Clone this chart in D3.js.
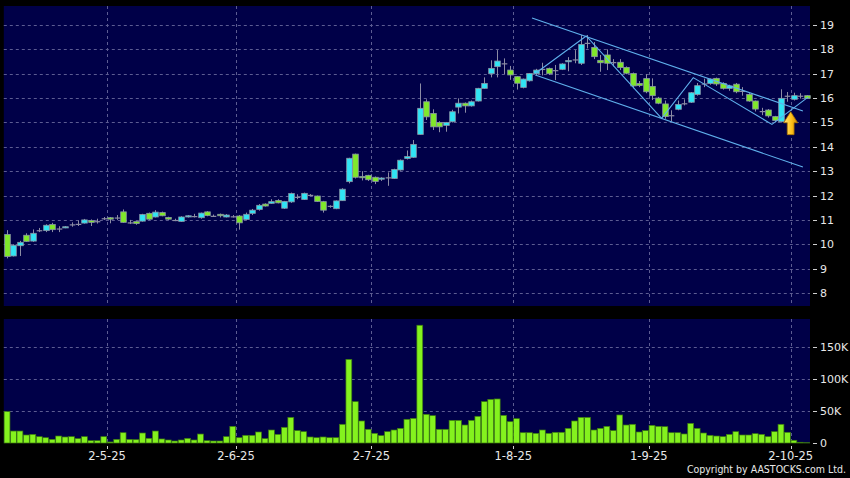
<!doctype html>
<html lang="en">
<head>
<meta charset="utf-8">
<title>Candlestick chart</title>
<script src="https://cdn.jsdelivr.net/npm/d3@7"></script>
<style>
  body { margin:0; background:#000; }
  text { font-family:"DejaVu Sans", sans-serif; font-size:11px; fill:#e8e8e8; }
  text.copy { font-family:"DejaVu Sans Condensed", "DejaVu Sans", sans-serif; font-stretch:condensed; font-size:10.5px; }
</style>
</head>
<body>
<div id="chart"></div>
<script>
// daily OHLC, one entry per trading day (8 Apr - 8 Oct 2025)
var opens = [10.4, 9.52, 9.94, 10.37, 10.13, 10.58, 10.56, 10.81, 10.65, 10.68,
  10.82, 10.84, 10.87, 10.97, 10.95, 11.07, 11.09, 11.1, 11.33, 10.9,
  10.93, 10.95, 11.27, 11.12, 11.3, 11.1, 11.0, 10.94, 11.13, 11.16,
  11.09, 11.33, 11.17, 11.23, 11.12, 11.15, 11.16, 11.02, 11.27, 11.43,
  11.65, 11.68, 11.8, 11.48, 11.74, 11.95, 11.84, 12.03, 11.98, 11.75,
  11.58, 11.46, 11.79, 12.57, 13.7, 12.78, 12.83, 12.75, 12.67, 12.75,
  12.7, 13.05, 13.52, 13.57, 14.51, 15.85, 15.37, 15.0, 14.88, 15.03,
  15.63, 15.79, 15.68, 15.88, 16.4, 17.0, 17.29, 17.43, 17.15, 16.88,
  16.44, 16.71, 17.0, 17.2, 17.22, 17.15, 17.18, 17.49, 17.59, 17.43,
  18.27, 18.08, 17.55, 17.77, 17.48, 17.47, 17.26, 17.01, 16.6, 16.8,
  16.48, 16.0, 15.76, 15.3, 15.54, 15.79, 15.83, 16.15, 16.6, 16.6,
  16.81, 16.6, 16.4, 16.57, 16.3, 16.15, 15.88, 15.47, 15.51, 15.24,
  15.03, 16.1, 15.95, 16.1, 16.1];

var highs = [10.58, 10.0, 10.14, 10.45, 10.61, 10.67, 10.82, 10.88, 10.74, 10.75,
  10.9, 10.98, 11.04, 11.02, 11.05, 11.12, 11.12, 11.2, 11.43, 11.0,
  10.95, 11.25, 11.3, 11.4, 11.34, 11.13, 11.05, 11.15, 11.2, 11.25,
  11.3, 11.36, 11.22, 11.26, 11.24, 11.2, 11.2, 11.3, 11.45, 11.65,
  11.68, 11.85, 11.85, 11.78, 12.12, 12.05, 12.12, 12.06, 12.0, 11.78,
  11.6, 11.8, 12.3, 13.55, 13.72, 13.0, 12.85, 12.78, 12.75, 12.95,
  13.1, 13.48, 13.85, 14.28, 16.6, 15.95, 15.54, 15.05, 15.02, 15.52,
  15.99, 15.82, 15.9, 16.42, 16.85, 17.55, 17.97, 17.63, 17.32, 16.9,
  16.8, 17.03, 17.2, 17.45, 17.25, 17.36, 17.43, 17.68, 17.97, 18.59,
  18.59, 18.3, 17.77, 18.0, 17.6, 17.6, 17.3, 17.05, 16.7, 16.98,
  16.81, 16.05, 15.9, 15.5, 15.9, 15.95, 16.25, 16.62, 16.8, 16.8,
  16.84, 16.65, 16.55, 16.62, 16.45, 16.2, 15.9, 15.6, 15.55, 15.27,
  16.36, 16.25, 16.22, 16.2, 16.12];

var lows = [9.42, 9.5, 9.52, 10.1, 10.1, 10.5, 10.5, 10.5, 10.5, 10.66,
  10.72, 10.75, 10.85, 10.75, 10.85, 11.0, 10.86, 11.0, 10.88, 10.83,
  10.8, 10.93, 11.0, 11.1, 11.15, 11.0, 10.95, 10.92, 11.1, 11.1,
  11.05, 11.15, 11.12, 11.1, 11.1, 11.1, 10.6, 11.0, 11.2, 11.38,
  11.55, 11.66, 11.68, 11.45, 11.7, 11.85, 11.82, 11.98, 11.74, 11.3,
  11.5, 11.44, 11.78, 12.5, 12.7, 12.62, 12.6, 12.47, 12.6, 12.4,
  12.68, 13.02, 13.48, 13.55, 14.5, 15.1, 14.69, 14.6, 14.62, 15.0,
  15.37, 15.4, 15.65, 15.86, 16.38, 16.85, 16.85, 16.98, 16.75, 16.35,
  16.4, 16.68, 16.95, 16.93, 16.95, 16.74, 17.15, 17.1, 17.43, 17.36,
  18.04, 17.6, 17.08, 17.15, 17.3, 17.15, 16.98, 16.4, 16.45, 16.2,
  15.92, 15.75, 15.15, 15.03, 15.5, 15.7, 15.8, 16.1, 16.45, 16.55,
  16.5, 16.35, 16.3, 16.2, 16.1, 15.85, 15.45, 15.3, 15.2, 15.0,
  15.0, 15.85, 15.9, 15.98, 15.97];

var closes = [9.5, 9.96, 10.08, 10.12, 10.45, 10.58, 10.78, 10.6, 10.65, 10.72,
  10.82, 10.84, 11.0, 10.9, 10.95, 11.07, 11.03, 11.1, 10.9, 10.9,
  10.85, 11.22, 11.03, 11.32, 11.17, 11.03, 11.0, 11.12, 11.17, 11.16,
  11.28, 11.18, 11.17, 11.17, 11.2, 11.15, 10.88, 11.23, 11.4, 11.6,
  11.57, 11.75, 11.7, 11.76, 12.08, 11.95, 12.09, 12.03, 11.76, 11.4,
  11.58, 11.78, 12.26, 13.53, 12.75, 12.73, 12.65, 12.58, 12.72, 12.75,
  13.07, 13.45, 13.6, 14.1, 15.58, 15.23, 14.82, 14.82, 15.0, 15.44,
  15.79, 15.68, 15.85, 16.4, 16.6, 17.22, 17.52, 17.43, 16.95, 16.61,
  16.78, 17.01, 17.15, 17.2, 17.0, 17.15, 17.4, 17.54, 17.59, 18.2,
  18.27, 17.7, 17.45, 17.43, 17.48, 17.25, 17.02, 16.5, 16.52, 16.26,
  16.1, 15.79, 15.24, 15.3, 15.74, 15.79, 16.22, 16.51, 16.6, 16.78,
  16.58, 16.4, 16.5, 16.26, 16.3, 15.88, 15.55, 15.47, 15.27, 15.08,
  15.99, 16.1, 16.1, 16.1, 15.99];

// volume in thousands of shares
var volumes = [49, 18.7, 18.7, 12.5, 13.5, 9.9, 8.3, 5.7, 10.9, 9.4,
  9.9, 6.8, 9.9, 3.6, 3.6, 9.9, 1.6, 5.7, 16.1, 5.7,
  5.2, 15.6, 7.3, 18.7, 6.3, 4.7, 3.1, 4.7, 7.3, 4.7,
  14, 3.6, 3.1, 3.1, 9.9, 26, 8.3, 12, 12, 17.2,
  6.8, 20.3, 13.5, 24.5, 40, 19.3, 17.7, 9.4, 8.3, 9.4,
  8.3, 8.3, 29.2, 130.7, 64.6, 34.4, 21.4, 15.1, 11.5, 17.7,
  20.3, 22.9, 37, 38.5, 184, 44.8, 42.7, 21.4, 21.4, 35.4,
  35.4, 28.1, 35.4, 41.7, 64.6, 68.2, 68.8, 43.2, 33.3, 38,
  16.1, 16.1, 15.1, 20.3, 15.1, 16.7, 16.7, 22.9, 34.4, 40,
  40, 20.3, 22.9, 26, 19.3, 43.8, 28.1, 29.2, 17.2, 19.3,
  27.6, 26, 25.5, 16.1, 16.1, 14.1, 30.7, 22.9, 15.6, 12,
  10.9, 9.9, 13.5, 17.7, 12.5, 12.5, 14.6, 13.5, 9.9, 17.7,
  29.2, 16.7, 4.2, 1.1, 0.4];

// month ticks: index of the first trading day of each month
var dateTickIdx = [15, 35, 56, 78, 99, 121];
var dateTickLabels = ["2-5-25", "2-6-25", "2-7-25", "1-8-25", "1-9-25", "2-10-25"];
var priceTicks = [8, 9, 10, 11, 12, 13, 14, 15, 16, 17, 18, 19];
var volumeTicks = [0, 50, 100, 150];

// drawn trend lines, as [day index, price]
var upperChannel = [[81.4, 19.29], [123.4, 15.47]];
var lowerChannel = [[81.9, 16.95], [123.4, 13.17]];
var zigzag = [[81.9, 17.01], [89.8, 18.55], [101.5, 15.17], [106.4, 16.84], [118.6, 14.92], [124.2, 16.04]];
var arrowMark = {i: 121.5, top: 15.44, bottom: 14.5};

var width = 850,
    height = 478;

var svg = d3.select("#chart")
  .append("svg")
  .attr("width", width)
  .attr("height", height)
  .style("display", "block");

svg.append("rect").attr("width", width).attr("height", height).attr("fill", "#000");

var left = 3.8, right = 810;
var pTop = 6, pBottom = 306;
var vTop = 319, vBottom = 443;

var n = opens.length;
var x = d3.scaleLinear().domain([-0.5, n - 0.5]).range([left, right]);
var y = d3.scaleLinear().domain([8, 19]).range([293, 25]);
var yv = d3.scaleLinear().domain([0, 150]).range([vBottom, 347]);

var step = x(1) - x(0);
var navy = "#000048";
var gridColor = "#5c5c92";

// panels
svg.append("rect").attr("x", left).attr("y", pTop).attr("width", right - left).attr("height", pBottom - pTop).attr("fill", navy);
svg.append("rect").attr("x", left).attr("y", vTop).attr("width", right - left).attr("height", vBottom - vTop).attr("fill", navy);

var grid = svg.append("g")
  .attr("stroke", gridColor)
  .attr("stroke-width", 1)
  .attr("stroke-dasharray", "3,3");

grid.selectAll(".hp")
  .data(priceTicks)
  .enter().append("line")
  .attr("x1", left).attr("x2", right)
  .attr("y1", function(d){ return Math.round(y(d)) + 0.5; })
  .attr("y2", function(d){ return Math.round(y(d)) + 0.5; });

grid.selectAll(".hv")
  .data(volumeTicks.slice(1))
  .enter().append("line")
  .attr("x1", left).attr("x2", right)
  .attr("y1", function(d){ return Math.round(yv(d)) + 0.5; })
  .attr("y2", function(d){ return Math.round(yv(d)) + 0.5; });

dateTickIdx.forEach(function(i){
  var gx = Math.round(x(i + 0.5)) + 0.5;
  grid.append("line").attr("x1", gx).attr("x2", gx).attr("y1", pTop).attr("y2", pBottom);
  grid.append("line").attr("x1", gx).attr("x2", gx).attr("y1", vTop).attr("y2", vBottom);
});

// candles
var idx = d3.range(n);
var upColor = "#30e4f4", downColor = "#80e82a", edge = "#8a96a6";

var candles = svg.append("g");

candles.selectAll(".wick")
  .data(idx)
  .enter().append("line")
  .attr("x1", function(i){ return Math.round(x(i)) + 0.5; })
  .attr("x2", function(i){ return Math.round(x(i)) + 0.5; })
  .attr("y1", function(i){ return y(highs[i]); })
  .attr("y2", function(i){ return y(lows[i]); })
  .attr("stroke", "#8c8ca4")
  .attr("stroke-width", 1);

candles.selectAll(".body")
  .data(idx)
  .enter().append("rect")
  .attr("x", function(i){ return Math.round(x(i)) - 2.3; })
  .attr("width", 5.6)
  .attr("y", function(i){ return y(Math.max(opens[i], closes[i])); })
  .attr("height", function(i){ return Math.max(1.2, Math.abs(y(opens[i]) - y(closes[i]))); })
  .attr("fill", function(i){
    if (closes[i] > opens[i]) return upColor;
    if (closes[i] < opens[i]) return downColor;
    return "#8c8ca4";
  })
  .attr("stroke", function(i){ return closes[i] == opens[i] ? "none" : edge; })
  .attr("stroke-width", 0.8);

// trend lines
var line = d3.line()
  .x(function(d){ return x(d[0]); })
  .y(function(d){ return y(d[1]); });

svg.selectAll(".trend")
  .data([upperChannel, lowerChannel, zigzag])
  .enter().append("path")
  .attr("d", line)
  .attr("fill", "none")
  .attr("stroke", "#5fb0ec")
  .attr("stroke-width", 1.1);

// arrow
var defs = svg.append("defs");
var grad = defs.append("linearGradient").attr("id", "gold").attr("x1", 0).attr("x2", 1).attr("y1", 0).attr("y2", 0);
grad.append("stop").attr("offset", "0%").attr("stop-color", "#ffe680");
grad.append("stop").attr("offset", "55%").attr("stop-color", "#ffc21a");
grad.append("stop").attr("offset", "100%").attr("stop-color", "#d08a00");

var ax = x(arrowMark.i), at = y(arrowMark.top), ab = y(arrowMark.bottom);
var headH = 11, headW = 7, shaftW = 3.4;
svg.append("path")
  .attr("d", "M" + ax + "," + at +
    "L" + (ax + headW) + "," + (at + headH) +
    "L" + (ax + shaftW) + "," + (at + headH) +
    "L" + (ax + shaftW) + "," + ab +
    "L" + (ax - shaftW) + "," + ab +
    "L" + (ax - shaftW) + "," + (at + headH) +
    "L" + (ax - headW) + "," + (at + headH) + "Z")
  .attr("fill", "url(#gold)")
  .attr("stroke", "#a87000")
  .attr("stroke-width", 0.8);

// volume bars
svg.append("g").selectAll("rect")
  .data(idx)
  .enter().append("rect")
  .attr("x", function(i){ return x(i) - step / 2 + 0.3; })
  .attr("width", step - 0.6)
  .attr("y", function(i){ return yv(volumes[i]); })
  .attr("height", function(i){ return vBottom - yv(volumes[i]); })
  .attr("fill", "#84f21e")
  .attr("stroke", "#3c7a10")
  .attr("stroke-width", 0.7);

// right axes
var axisG = svg.append("g");
axisG.selectAll(".pt")
  .data(priceTicks)
  .enter().append("line")
  .attr("x1", 813).attr("x2", 817)
  .attr("y1", function(d){ return Math.round(y(d)) + 0.5; })
  .attr("y2", function(d){ return Math.round(y(d)) + 0.5; })
  .attr("stroke", "#cfcfcf");

axisG.selectAll(".pl")
  .data(priceTicks)
  .enter().append("text")
  .attr("x", 820)
  .attr("y", function(d){ return y(d); })
  .attr("dy", "0.36em")
  .text(function(d){ return d; });

axisG.selectAll(".vt")
  .data(volumeTicks)
  .enter().append("line")
  .attr("x1", 813).attr("x2", 817)
  .attr("y1", function(d){ return Math.round(yv(d)) + 0.5; })
  .attr("y2", function(d){ return Math.round(yv(d)) + 0.5; })
  .attr("stroke", "#cfcfcf");

axisG.selectAll(".vl")
  .data(volumeTicks)
  .enter().append("text")
  .attr("x", 820)
  .attr("y", function(d){ return yv(d); })
  .attr("dy", "0.36em")
  .text(function(d){ return d === 0 ? "0" : d + "K"; });

// date axis
axisG.selectAll(".dt")
  .data(dateTickIdx)
  .enter().append("line")
  .attr("x1", function(i){ return Math.round(x(i + 0.5)) + 0.5; })
  .attr("x2", function(i){ return Math.round(x(i + 0.5)) + 0.5; })
  .attr("y1", 446).attr("y2", 449)
  .attr("stroke", "#cfcfcf");

axisG.selectAll(".dl")
  .data(dateTickIdx)
  .enter().append("text")
  .attr("x", function(i){ return x(i + 0.5); })
  .attr("y", 460)
  .attr("text-anchor", "middle")
  .style("font-size", "11.5px")
  .text(function(d, k){ return dateTickLabels[k]; });

svg.append("text")
  .attr("class", "copy")
  .attr("x", 846)
  .attr("y", 473)
  .attr("text-anchor", "end")
  .text("Copyright by AASTOCKS.com Ltd.");
</script>
</body>
</html>
